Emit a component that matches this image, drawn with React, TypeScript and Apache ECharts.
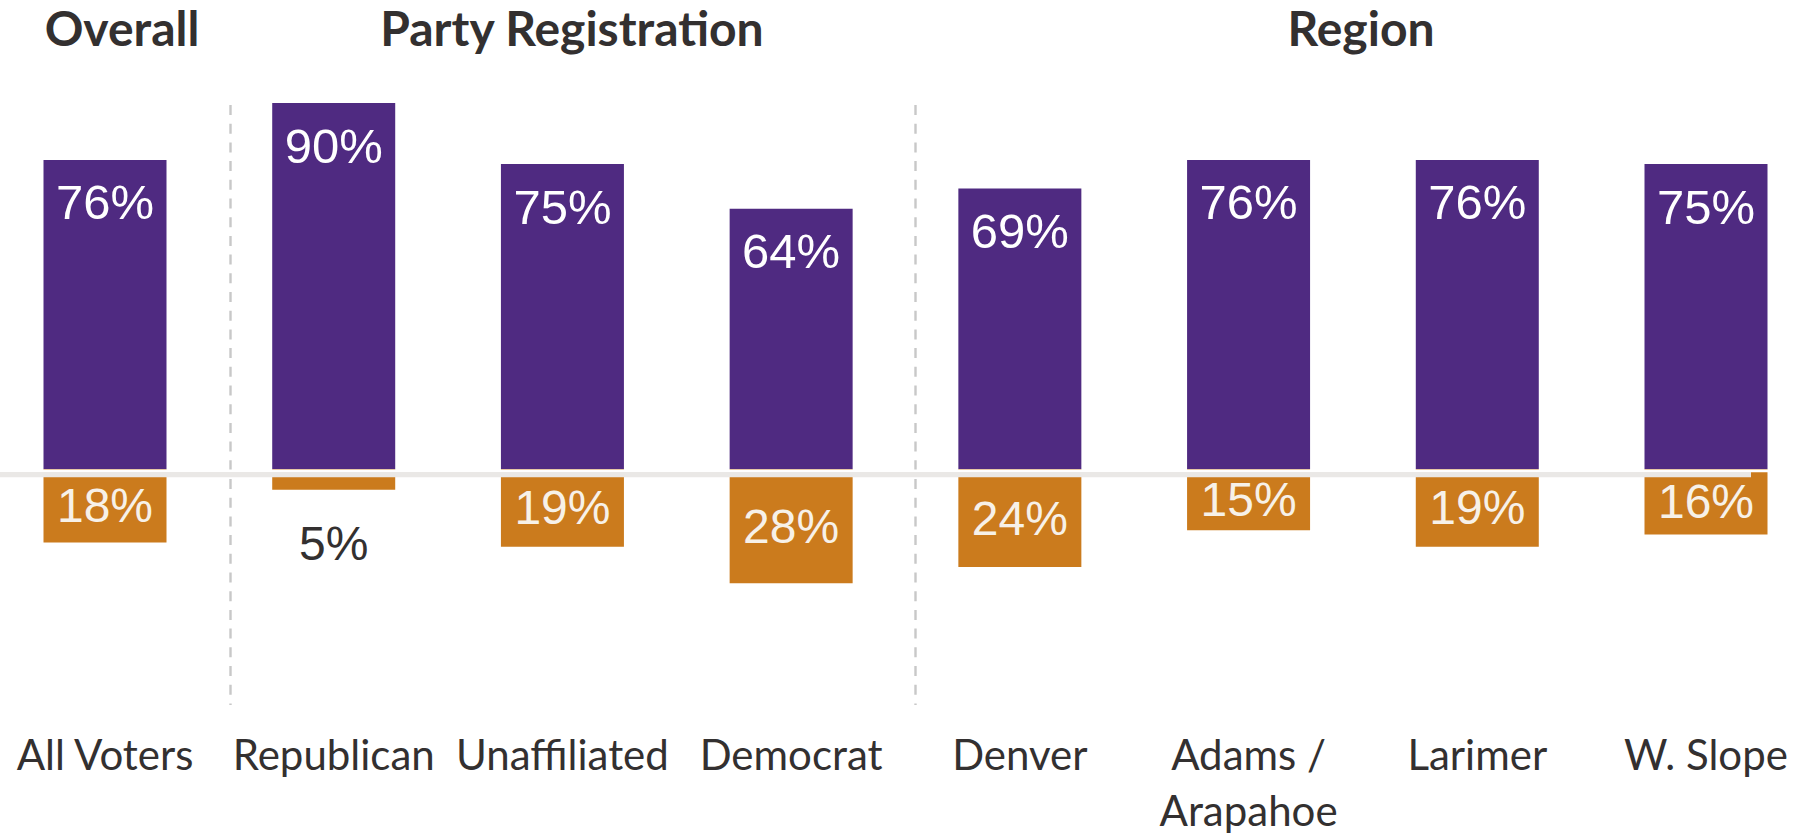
import React, { useEffect, useRef } from "react";
import * as echarts from "echarts";

const categories = [
  "All Voters",
  "Republican",
  "Unaffiliated",
  "Democrat",
  "Denver",
  "Adams /\nArapahoe",
  "Larimer",
  "W. Slope",
];
const supportValues = [76, 90, 75, 64, 69, 76, 76, 75];
const opposeValues = [18, 5, 19, 28, 24, 15, 19, 16];
const groupTitles = ["Overall", "Party Registration", "Region"];

const PURPLE = "#4f2a81";
const ORANGE = "#cb7b1d";
const DARK = "#333030";

export default function App() {
  const ref = useRef<HTMLDivElement>(null);

  useEffect(() => {
    document.body.style.margin = "0";
    const chart = echarts.init(ref.current!, null, { renderer: "svg" });

    const titleX = [122, 572, 1361];
    const dividerX = [230.5, 915.5];

    const option: any = {
      animation: false,
      backgroundColor: "#ffffff",
      grid: {
        left: 105,
        right: 110,
        top: 62.3,
        bottom: 122.5,
        containLabel: false,
        outerBoundsMode: "none",
      },
      xAxis: {
        type: "category",
        data: categories,
        boundaryGap: false,
        axisLine: { show: false },
        axisTick: { show: false },
        splitLine: { show: false },
        axisLabel: {
          interval: 0,
          fontFamily: "Lato",
          fontSize: 42,
          lineHeight: 56,
          color: DARK,
          margin: 12,
        },
      },
      yAxis: {
        type: "value",
        min: -60,
        max: 100,
        show: false,
        splitLine: { show: false },
      },
      series: [
        {
          name: "Support",
          type: "bar",
          clip: false,
          barWidth: 123,
          barGap: "-100%",
          itemStyle: { color: PURPLE },
          data: supportValues,
          label: {
            show: true,
            position: "insideTop",
            distance: 18,
            color: "#ffffff",
            fontFamily: "Liberation Sans",
            fontSize: 49,
            formatter: (p: any) => `${p.value}%`,
          },
        },
        {
          name: "Oppose",
          type: "bar",
          clip: false,
          barWidth: 123,
          barGap: "-100%",
          itemStyle: { color: ORANGE },
          data: opposeValues.map((v) => {
            const small = v < 10;
            return {
              value: -v,
              label: small
                ? { position: "bottom", distance: 30, color: DARK }
                : { position: "inside", color: "#f7f1e8" },
            };
          }),
          label: {
            show: true,
            fontFamily: "Liberation Sans",
            fontSize: 48,
            formatter: (p: any) => `${Math.abs(p.value)}%`,
          },
        },
      ],
      graphic: [
        {
          type: "rect",
          z: 99,
          shape: { x: 0, y: 469.6, width: 1816, height: 2.6 },
          style: { fill: "#ffffff" },
        },
        {
          type: "rect",
          z: 100,
          shape: { x: 0, y: 472, width: 1751, height: 5.3 },
          style: { fill: "#eae8e6" },
        },
        ...dividerX.map((x) => ({
          type: "line",
          z: 50,
          shape: { x1: x, y1: 105, x2: x, y2: 705 },
          style: { stroke: "#c8c8c8", lineWidth: 2.4, lineDash: [10, 8.7] },
        })),
        ...groupTitles.map((t, i) => ({
          type: "text",
          z: 100,
          x: titleX[i],
          y: 27,
          style: {
            text: t,
            fontFamily: "Lato",
            fontWeight: "bold",
            fontSize: 48,
            fill: DARK,
            align: "center",
            verticalAlign: "middle",
          },
        })),
      ],
    };

    chart.setOption(option);
    return () => chart.dispose();
  }, []);

  return (
    <div
      ref={ref}
      style={{ position: "absolute", left: 0, top: 0, width: 1816, height: 836 }}
    />
  );
}
